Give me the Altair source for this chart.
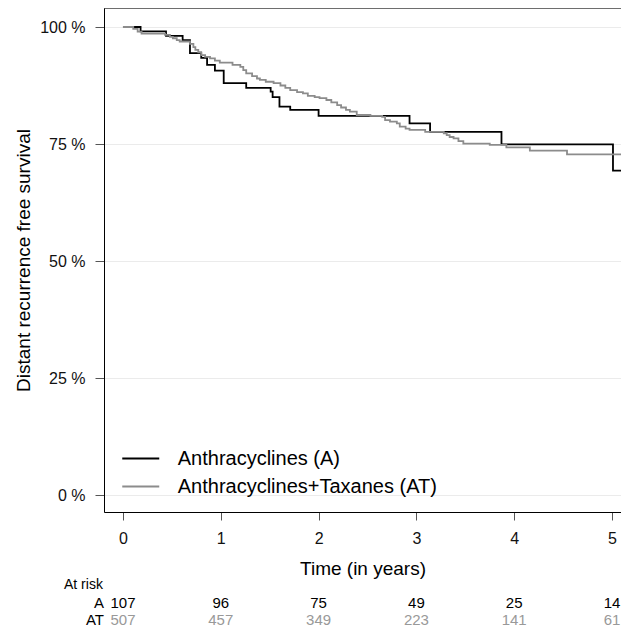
import altair as alt
import pandas as pd

# ---- data ----
group_names = ["Anthracyclines (A)", "Anthracyclines+Taxanes (AT)"]

a_time = [0, 0.18, 0.44, 0.61, 0.685, 0.80, 0.86, 0.94, 1.03, 1.26, 1.51, 1.53,
          1.60, 1.71, 2.00, 2.93, 3.14, 3.87, 5.01, 5.17]
a_surv = [100, 99.07, 98.1, 97.2, 94.4, 93.4, 91.9, 90.7, 88.0, 87.0, 86.2, 85.0,
          83.0, 82.3, 81.0, 79.4, 77.6, 74.9, 69.3, 69.3]

at_time = [0, 0.105, 0.15, 0.19, 0.43, 0.48, 0.51, 0.55, 0.58, 0.685, 0.72, 0.74,
           0.77, 0.80, 0.84, 0.89, 0.94, 0.99, 1.12, 1.20, 1.23, 1.26, 1.32, 1.37,
           1.40, 1.46, 1.54, 1.61, 1.66, 1.71, 1.78, 1.84, 1.89, 1.96, 2.01, 2.08,
           2.13, 2.19, 2.23, 2.28, 2.32, 2.39, 2.53, 2.65, 2.68, 2.73, 2.80, 2.83,
           2.89, 2.93, 3.09, 3.28, 3.31, 3.34, 3.38, 3.43, 3.48, 3.75, 3.92, 4.16,
           4.54, 5.17]
at_surv = [100, 99.6, 99.0, 98.6, 98.3, 97.9, 97.6, 97.2, 96.9, 96.4, 95.7, 95.1,
           94.6, 94.0, 93.6, 93.3, 92.8, 92.4, 91.9, 91.5, 90.8, 90.1, 89.5, 89.0,
           88.7, 88.3, 88.0, 87.5, 87.0, 86.5, 86.1, 85.8, 85.3, 85.0, 84.8, 84.4,
           83.9, 83.3, 82.8, 82.3, 81.9, 81.2, 81.0, 80.8, 80.1, 79.8, 79.4, 78.7,
           78.3, 78.0, 77.6, 77.3, 76.9, 76.5, 76.2, 75.6, 75.1, 74.8, 74.3, 73.6,
           72.8, 72.8]

risk_times = [0, 1, 2, 3, 4, 5]
risk_a = [107, 96, 75, 49, 25, 14]
risk_at = [507, 457, 349, 223, 141, 61]

y_ticks = [0, 25, 50, 75, 100]
x_ticks = [0, 1, 2, 3, 4, 5]

FONT = "Liberation Sans"

curves = pd.DataFrame({
    "time": a_time + at_time,
    "surv": a_surv + at_surv,
    "group": [group_names[0]] * len(a_time) + [group_names[1]] * len(at_time),
})
risk_df_a = pd.DataFrame({"time": risk_times, "n": [str(v) for v in risk_a]})
risk_df_at = pd.DataFrame({"time": risk_times, "n": [str(v) for v in risk_at]})
row_labels = pd.DataFrame({"lab": ["At risk", "A", "AT"]})

x_scale = alt.Scale(domain=[-0.194, 5.092], nice=False, zero=False)
y_scale = alt.Scale(domain=[-3.63, 104.06], nice=False, zero=False)

lines = alt.Chart(curves).mark_line(
    interpolate="step-after", strokeWidth=1.8, clip=True
).encode(
    x=alt.X("time:Q", scale=x_scale,
            axis=alt.Axis(values=x_ticks, format="d", title="Time (in years)",
                          grid=False, domain=True, domainColor="#000000",
                          tickSize=8, tickColor="#555555",
                          labelFontSize=16, labelPadding=10, labelColor="#111111",
                          titleFontSize=19, titleFontWeight="normal",
                          titlePadding=13, labelFont=FONT, titleFont=FONT)),
    y=alt.Y("surv:Q", scale=y_scale,
            axis=alt.Axis(values=y_ticks, labelExpr="datum.value + ' %'",
                          title="Distant recurrence free survival",
                          grid=True, gridColor="#ebebeb", gridWidth=1,
                          domain=True, domainColor="#000000",
                          tickSize=9, tickColor="#555555",
                          labelFontSize=16, labelPadding=10, labelColor="#111111",
                          titleFontSize=19, titleFontWeight="normal",
                          titlePadding=6, labelFont=FONT, titleFont=FONT)),
    color=alt.Color("group:N",
                    scale=alt.Scale(domain=group_names, range=["#000000", "#8c8c8c"]),
                    legend=alt.Legend(title=None, orient="none", legendX=26.25,
                                      legendY=440, symbolType="M-2,0H2",
                                      symbolSize=342, symbolStrokeWidth=2,
                                      labelFontSize=20, labelFont=FONT,
                                      labelColor="#000000", labelOffset=26.5,
                                      labelLimit=0, rowPadding=7, padding=0)),
    order=alt.Order("group:N"),
)

top_border = alt.Chart(row_labels).transform_filter(
    alt.datum.lab == "At risk"
).mark_rule(color="#000000", strokeWidth=1).encode(y=alt.value(0))

risk_a_text = alt.Chart(risk_df_a).mark_text(
    fontSize=15, font=FONT, color="#000000", baseline="middle"
).encode(x=alt.X("time:Q", scale=x_scale), y=alt.value(595), text="n:N")

risk_at_text = alt.Chart(risk_df_at).mark_text(
    fontSize=15, font=FONT, color="#999999", baseline="middle"
).encode(x=alt.X("time:Q", scale=x_scale), y=alt.value(612), text="n:N")

lab_at_risk = alt.Chart(row_labels).transform_filter(
    alt.datum.lab == "At risk"
).mark_text(fontSize=14, font=FONT, color="#000000", align="left",
            baseline="middle").encode(x=alt.value(-40), y=alt.value(577), text="lab:N")
lab_a = alt.Chart(row_labels).transform_filter(
    alt.datum.lab == "A"
).mark_text(fontSize=15, font=FONT, color="#000000", align="right",
            baseline="middle").encode(x=alt.value(0), y=alt.value(595), text="lab:N")
lab_at = alt.Chart(row_labels).transform_filter(
    alt.datum.lab == "AT"
).mark_text(fontSize=15, font=FONT, color="#000000", align="right",
            baseline="middle").encode(x=alt.value(0), y=alt.value(612), text="lab:N")

chart = alt.layer(
    lines, top_border, risk_a_text, risk_at_text, lab_at_risk, lab_a, lab_at
).properties(
    width=517, height=504,
    autosize=alt.AutoSizeParams(type="none"),
    padding={"left": 96, "top": 0, "right": 0, "bottom": 115},
).configure_view(
    stroke=None
).configure(background="#ffffff")

chart.save("out.html", embed_options={"renderer": "svg", "actions": False})
